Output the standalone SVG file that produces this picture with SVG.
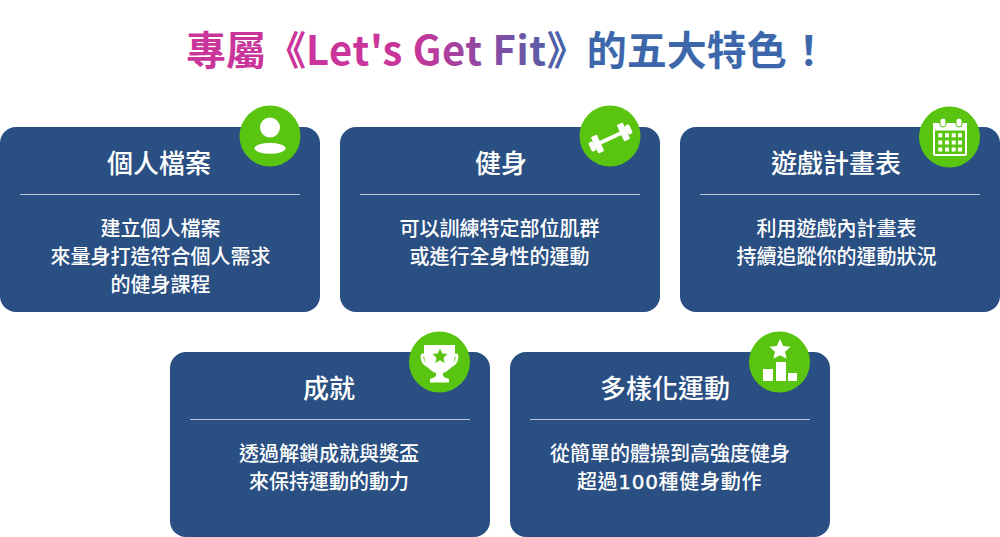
<svg xmlns="http://www.w3.org/2000/svg" width="1000" height="537" viewBox="0 0 1000 537">
<style>
text{font-family:"Noto Sans CJK TC","Noto Sans",sans-serif;text-anchor:middle}
.card{fill:#2a4f82}
.badge{fill:#5ac510}
.h{font-size:26px;font-weight:500;fill:#fff}
.b{font-size:20px;font-weight:500;fill:#fff}
.d{font-family:"DejaVu Sans",sans-serif;font-weight:400;stroke:#fff;stroke-width:0.4}
.rule{stroke:#b9c6d8;stroke-width:1}
.w{fill:#fff}
.g{fill:#5ac510}
</style>
<defs>
<linearGradient id="tg" gradientUnits="userSpaceOnUse" x1="186" y1="0" x2="818" y2="0">
<stop offset="0.36" stop-color="#c9359a"/>
<stop offset="0.62" stop-color="#3d66ab"/>
</linearGradient>
</defs>
<rect width="1000" height="537" fill="#fff"/>
<text x="186" y="65" font-size="40" font-weight="700" fill="url(#tg)" style="text-anchor:start">專屬《<tspan letter-spacing="0.6">Let's Get Fit</tspan>》的五大特色<tspan dx="2">！</tspan></text>

<g id="node-profile">
<rect class="card" x="0" y="127" width="320" height="185" rx="16"/>
<text class="h" x="159" y="173">個人檔案</text>
<line class="rule" x1="20" y1="194.500" x2="300" y2="194.500"/>
<text class="b" x="160.500" y="236">建立個人檔案</text>
<text class="b" x="160.500" y="264">來量身打造符合個人需求</text>
<text class="b" x="160.500" y="292">的健身課程</text>
<circle class="badge" cx="270" cy="136" r="30.500"/>
<circle class="w" cx="270" cy="127.500" r="10"/>
<ellipse class="w" cx="270" cy="148.300" rx="15.500" ry="5.500"/>
</g>

<g id="node-fitness">
<rect class="card" x="340" y="127" width="320" height="185" rx="16"/>
<text class="h" x="501" y="173">健身</text>
<line class="rule" x1="360" y1="194.500" x2="640" y2="194.500"/>
<text class="b" x="499.500" y="236">可以訓練特定部位肌群</text>
<text class="b" x="499.500" y="264">或進行全身性的運動</text>
<circle class="badge" cx="610" cy="136" r="30.500"/>
<g transform="rotate(-25 610.500 138)" class="w">
<rect x="598" y="136" width="25" height="4"/>
<rect x="593" y="129" width="6.500" height="18" rx="1"/>
<rect x="621.500" y="129" width="6.500" height="18" rx="1"/>
<rect x="588" y="133" width="5" height="10" rx="2"/>
<rect x="628" y="133" width="5" height="10" rx="2"/>
</g>
</g>

<g id="node-plan">
<rect class="card" x="680" y="127" width="320" height="185" rx="16"/>
<text class="h" x="836" y="173">遊戲計畫表</text>
<line class="rule" x1="700" y1="194.500" x2="980" y2="194.500"/>
<text class="b" x="836.500" y="236">利用遊戲內計畫表</text>
<text class="b" x="836.500" y="264">持續追蹤你的運動狀況</text>
<circle class="badge" cx="949.500" cy="137" r="30.500"/>
<rect x="934" y="124" width="32" height="31" rx="1.500" fill="none" stroke="#fff" stroke-width="2"/>
<rect class="w" x="933" y="123" width="34" height="7.500"/>
<rect class="w" x="940" y="118" width="6" height="9" rx="3" stroke="#5ac510" stroke-width="1"/>
<rect class="w" x="956" y="118" width="6" height="9" rx="3" stroke="#5ac510" stroke-width="1"/>
<g class="w">
<rect x="938.300" y="133.300" width="4" height="4"/><rect x="945" y="133.300" width="4" height="4"/><rect x="951.700" y="133.300" width="4" height="4"/><rect x="958" y="133.300" width="4" height="4"/>
<rect x="938.300" y="140.500" width="4" height="4"/><rect x="945" y="140.500" width="4" height="4"/><rect x="951.700" y="140.500" width="4" height="4"/><rect x="958" y="140.500" width="4" height="4"/>
<rect x="938.300" y="147.500" width="4" height="4"/><rect x="945" y="147.500" width="4" height="4"/><rect x="951.700" y="147.500" width="4" height="4"/><rect x="958" y="147.500" width="4" height="4"/>
</g>
</g>

<g id="node-achievement">
<rect class="card" x="170" y="352" width="320" height="185" rx="16"/>
<text class="h" x="329" y="398">成就</text>
<line class="rule" x1="190" y1="419.500" x2="470" y2="419.500"/>
<text class="b" x="329" y="461">透過解鎖成就與獎盃</text>
<text class="b" x="329" y="489">來保持運動的動力</text>
<circle class="badge" cx="439.500" cy="362" r="30.500"/>
<path class="w" d="M424 345H455V353C455 364 450 371 443 373V375C443 377 446 378 449 379V382.500H430V379C433 378 436 377 436 375V373C429 371 424 364 424 353Z"/>
<path d="M424 355H423Q422 355 422 357C422 361 424 364 428 366M455 355H456Q457 355 457 357C457 361 455 364 451 366" fill="none" stroke="#fff" stroke-width="2.800" stroke-linecap="round"/>
<path class="g" d="M440 348.500L442.200 353.600L447.500 354.100L443.500 357.700L444.700 363L440 360.200L435.300 363L436.500 357.700L432.500 354.100L437.800 353.600Z"/>
</g>

<g id="node-variety">
<rect class="card" x="510" y="352" width="320" height="185" rx="16"/>
<text class="h" x="665" y="398">多樣化運動</text>
<line class="rule" x1="530" y1="419.500" x2="810" y2="419.500"/>
<text class="b" x="670" y="461">從簡單的體操到高強度健身</text>
<text class="b" x="669.500" y="489" letter-spacing="0.7">超過<tspan class="d">100</tspan>種健身動作</text>
<circle class="badge" cx="779.500" cy="362" r="30.500"/>
<path class="w" d="M780 339L783.200 346L790.500 346.800L785 351.700L786.600 358.800L780 355.200L773.400 358.800L775 351.700L769.500 346.800L776.800 346Z"/>
<rect class="w" x="763" y="369" width="10" height="12"/>
<rect class="w" x="776" y="362" width="10" height="19"/>
<rect class="w" x="788" y="373" width="9" height="8"/>
</g>
<g id="connectors"/>
</svg>
